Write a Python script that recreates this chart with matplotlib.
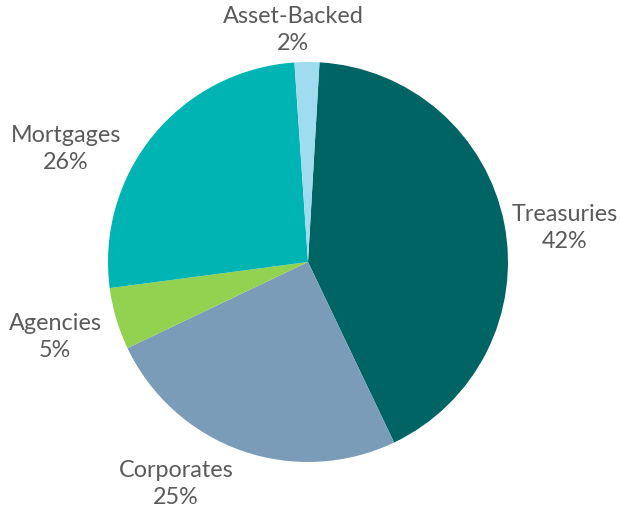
import matplotlib
matplotlib.use("Agg")
import matplotlib.pyplot as plt

categories = ["Treasuries", "Corporates", "Agencies", "Mortgages", "Asset-Backed"]
values = [42, 25, 5, 26, 2]
colors = ["#016464", "#7b9cb8", "#93d250", "#00b4b4", "#a0dcf0"]
# label centres (pixel coords from top-left)
label_pos = [(565, 228), (176, 484), (55, 337), (66, 149), (293, 30)]

W, H = 621, 512
fig = plt.figure(figsize=(W / 100, H / 100), dpi=100)
ax = fig.add_axes([0, 0, 1, 1])

ax.pie(values, colors=colors, startangle=86.7, counterclock=False,
       center=(308, H - 262), radius=200, frame=True,
       wedgeprops=dict(linewidth=0))
ax.set_xlim(0, W)
ax.set_ylim(0, H)
ax.set_aspect("equal")
ax.axis("off")

for cat, v, (x, y) in zip(categories, values, label_pos):
    ax.text(x, H - y, f"{cat}\n{v}%", ha="center", va="center",
            fontsize=16.8, family="Lato", fontweight="normal",
            color="#5a5a5a", linespacing=1.3)

fig.savefig("out.png", dpi=100)
